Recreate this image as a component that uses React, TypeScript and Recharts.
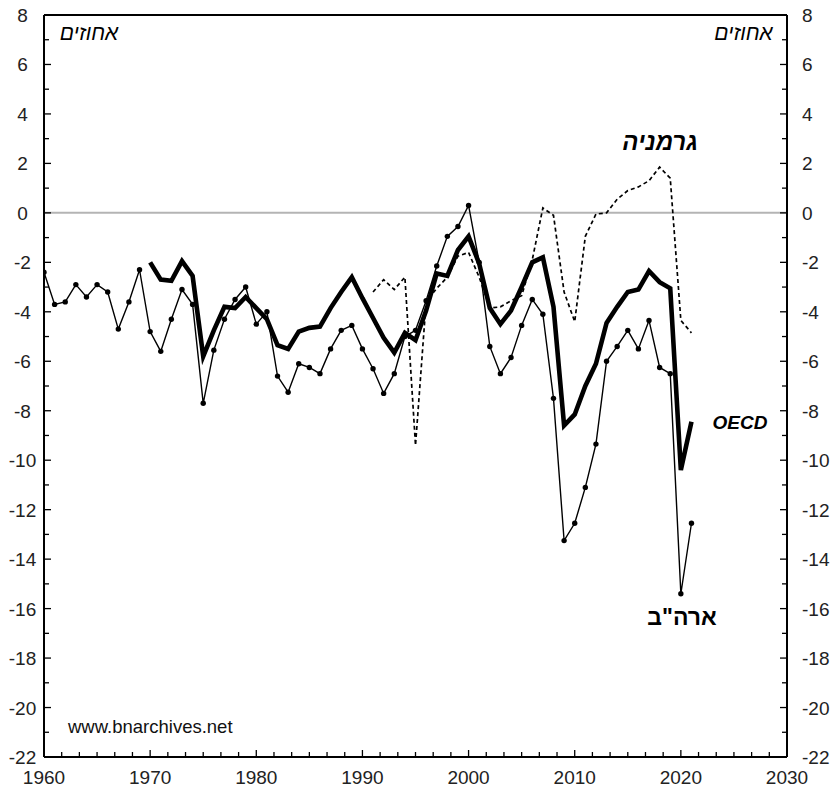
import React from 'react';
import { LineChart, Line, XAxis, YAxis, ReferenceLine } from 'recharts';

const years: number[] = [];
for (let y = 1960; y <= 2021; y++) years.push(y);

const usa = [
  -2.4, -3.7, -3.6, -2.9, -3.4, -2.9, -3.2, -4.7, -3.6, -2.3,
  -4.8, -5.6, -4.3, -3.1, -3.7, -7.7, -5.55, -4.3, -3.5, -3.0,
  -4.5, -4.0, -6.6, -7.25, -6.1, -6.25, -6.5, -5.5, -4.75, -4.55,
  -5.5, -6.3, -7.3, -6.5, -5.0, -4.75, -3.55, -2.15, -0.95, -0.55,
  0.3, -2.0, -5.4, -6.5, -5.85, -4.55, -3.5, -4.1, -7.5, -13.25,
  -12.55, -11.1, -9.35, -6.0, -5.4, -4.75, -5.5, -4.35, -6.25, -6.5,
  -15.4, -12.55,
];

const oecdStart = 1970;
const oecd = [
  -2.0, -2.7, -2.75, -1.95, -2.55, -5.8, -4.75, -3.8, -3.85, -3.4,
  -3.85, -4.3, -5.35, -5.5, -4.8, -4.65, -4.6, -3.85, -3.2, -2.6,
  -3.45, -4.25, -5.05, -5.65, -4.85, -5.15, -3.95, -2.45, -2.55, -1.5,
  -0.95, -2.05, -3.85, -4.5, -3.95, -3.0, -2.0, -1.8, -3.8, -8.6,
  -8.15, -7.0, -6.1, -4.45, -3.8, -3.2, -3.1, -2.35, -2.8, -3.05,
  -10.4, -8.45,
];

const germanyStart = 1991;
const germany = [
  -3.2, -2.7, -3.1, -2.6, -9.4, -3.6, -3.05, -2.6, -1.75,
  -1.6, -2.6, -3.85, -3.8, -3.55, -3.35, -1.9, 0.2, -0.1, -3.2,
  -4.4, -0.95, -0.05, 0.0, 0.55, 0.9, 1.05, 1.3, 1.85, 1.4,
  -4.35, -4.85,
];

const yTicks = [-22, -21, -20, -19, -18, -17, -16, -15, -14, -13, -12, -11, -10, -9, -8, -7, -6, -5, -4, -3, -2, -1, 0, 1, 2, 3, 4, 5, 6, 7, 8];
const xDecades = [1960, 1970, 1980, 1990, 2000, 2010, 2020, 2030];
const xTicks: number[] = [];
xDecades.forEach((d, i) => {
  if (i < xDecades.length - 1) {
    for (let k = 0; k < 6; k++) xTicks.push(d + (k * 10) / 6);
  } else xTicks.push(d);
});

const rows = years.map((y, i) => ({
  year: y,
  usa: usa[i],
  oecd: y >= oecdStart ? oecd[y - oecdStart] : null,
  germany: y >= germanyStart ? germany[y - germanyStart] : null,
}));

const FONT = '"Liberation Sans", Arial, sans-serif';

const isDecade = (v: number) => Math.abs(v / 10 - Math.round(v / 10)) < 1e-6;

const XTick = (props: any) => {
  const { x, y, payload } = props;
  const v = payload.value;
  const major = isDecade(v);
  return (
    <g>
      {v > 1960.01 && v < 2029.99 && (
        <line x1={x} y1={y} x2={x} y2={y - (major ? 7 : 5)} stroke="#000" strokeWidth={1.3} />
      )}
      {major && (
        <text x={x} y={y + 27} textAnchor="middle" fontSize={19} fontFamily={FONT} fill="#222">
          {v}
        </text>
      )}
    </g>
  );
};

const YTickL = (props: any) => {
  const { x, y, payload } = props;
  const v = payload.value;
  const major = v % 2 === 0;
  return (
    <g>
      {v > -22 && v < 8 && (
        <line x1={x} y1={y} x2={x + (major ? 7 : 5)} y2={y} stroke="#000" strokeWidth={1.3} />
      )}
      {major && (
        <text x={22.5} y={y + 7} textAnchor="middle" fontSize={19} fontFamily={FONT} fill="#222">
          {v}
        </text>
      )}
    </g>
  );
};

const YTickR = (props: any) => {
  const { x, y, payload } = props;
  const v = payload.value;
  const major = v % 2 === 0;
  return (
    <g>
      {v > -22 && v < 8 && (
        <line x1={x} y1={y} x2={x - (major ? 7 : 5)} y2={y} stroke="#000" strokeWidth={1.3} />
      )}
      {major && (
        <text x={x + 15} y={y + 7} textAnchor="start" fontSize={19} fontFamily={FONT} fill="#222">
          {v}
        </text>
      )}
    </g>
  );
};

export default function App() {
  return (
    <div style={{ position: 'absolute', left: 0, top: 0, width: 835, height: 789, background: '#fff' }}>
      <LineChart width={835} height={789} data={rows} margin={{ top: 15, right: 0, left: 0, bottom: 0 }}>
        <XAxis
          dataKey="year"
          type="number"
          domain={[1960, 2030]}
          ticks={xTicks}
          interval={0}
          tick={XTick}
          tickLine={false}
          tickSize={0}
          tickMargin={0}
          height={32}
          axisLine={{ stroke: '#000', strokeWidth: 2 }}
          allowDataOverflow
        />
        <YAxis
          yAxisId="l"
          domain={[-22, 8]}
          ticks={yTicks}
          interval={0}
          tick={YTickL}
          tickLine={false}
          tickSize={0}
          tickMargin={0}
          width={44}
          axisLine={{ stroke: '#000', strokeWidth: 2 }}
          allowDataOverflow
        />
        <YAxis
          yAxisId="r"
          orientation="right"
          domain={[-22, 8]}
          ticks={yTicks}
          interval={0}
          tick={YTickR}
          tickLine={false}
          tickSize={0}
          tickMargin={0}
          width={48}
          axisLine={{ stroke: '#000', strokeWidth: 2 }}
          allowDataOverflow
        />
        <ReferenceLine yAxisId="l" y={0} stroke="#b4b4b4" strokeWidth={2} />
        <ReferenceLine yAxisId="l" y={8} stroke="#000" strokeWidth={2} />
        <Line
          yAxisId="l"
          dataKey="germany"
          stroke="#000"
          strokeWidth={1.7}
          strokeDasharray="4 3"
          dot={false}
          isAnimationActive={false}
          connectNulls={false}
        />
        <Line
          yAxisId="l"
          dataKey="usa"
          stroke="#000"
          strokeWidth={1.4}
          dot={{ r: 2.7, fill: '#000', stroke: 'none' }}
          isAnimationActive={false}
        />
        <Line
          yAxisId="l"
          dataKey="oecd"
          stroke="#000"
          strokeWidth={4.6}
          dot={false}
          isAnimationActive={false}
          connectNulls={false}
        />
      </LineChart>
      <svg
        width={835}
        height={789}
        style={{ position: 'absolute', left: 0, top: 0, pointerEvents: 'none' }}
      >
        <g fontFamily={FONT} fill="#000">
          <text x={89} y={40} textAnchor="middle" fontSize={21} fontStyle="italic">אחוזים</text>
          <text x={743.5} y={40} textAnchor="middle" fontSize={21} fontStyle="italic">אחוזים</text>
          <text x={660} y={150} textAnchor="middle" fontSize={24} fontWeight="bold" fontStyle="italic">גרמניה</text>
          <text x={740} y={429} textAnchor="middle" fontSize={19} fontWeight="bold" fontStyle="italic">OECD</text>
          <text x={682} y={625} textAnchor="middle" fontSize={23} fontWeight="bold">ארה"ב</text>
          <text x={68} y={733} textAnchor="start" fontSize={18.5} fill="#111">www.bnarchives.net</text>
        </g>
      </svg>
    </div>
  );
}
